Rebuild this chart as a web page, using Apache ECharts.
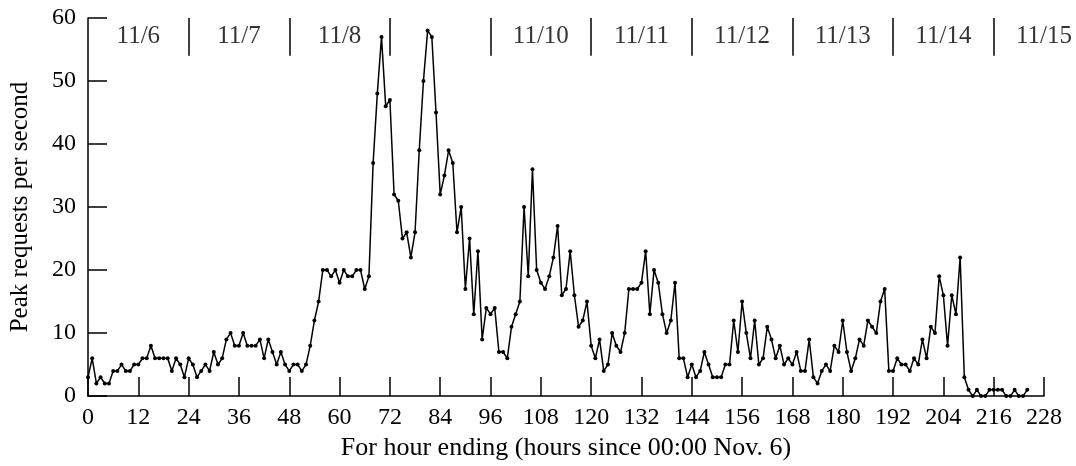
<!DOCTYPE html>
<html>
<head>
<meta charset="utf-8">
<title>Peak requests per second</title>
<script src="https://cdn.jsdelivr.net/npm/echarts@6/dist/echarts.min.js"></script>
<style>
  html, body { margin: 0; padding: 0; background: #fff; }
  #chart { width: 1076px; height: 466px; }
</style>
</head>
<body>
<div id="chart"></div>
<script>
// hourly peak, index = hours since 00:00 Nov. 6
const peakRequests = [
  3, 6, 2, 3, 2, 2, 4, 4, 5, 4, 4, 5, 5, 6, 6, 8, 6, 6, 6, 6, 4, 6, 5, 3,
  6, 5, 3, 4, 5, 4, 7, 5, 6, 9, 10, 8, 8, 10, 8, 8, 8, 9, 6, 9, 7, 5, 7, 5,
  4, 5, 5, 4, 5, 8, 12, 15, 20, 20, 19, 20, 18, 20, 19, 19, 20, 20, 17, 19, 37, 48, 57, 46,
  47, 32, 31, 25, 26, 22, 26, 39, 50, 58, 57, 45, 32, 35, 39, 37, 26, 30, 17, 25, 13, 23, 9, 14,
  13, 14, 7, 7, 6, 11, 13, 15, 30, 19, 36, 20, 18, 17, 19, 22, 27, 16, 17, 23, 16, 11, 12, 15,
  8, 6, 9, 4, 5, 10, 8, 7, 10, 17, 17, 17, 18, 23, 13, 20, 18, 13, 10, 12, 18, 6, 6, 3,
  5, 3, 4, 7, 5, 3, 3, 3, 5, 5, 12, 7, 15, 10, 6, 12, 5, 6, 11, 9, 6, 8, 5, 6,
  5, 7, 4, 4, 9, 3, 2, 4, 5, 4, 8, 7, 12, 7, 4, 6, 9, 8, 12, 11, 10, 15, 17, 4,
  4, 6, 5, 5, 4, 6, 5, 9, 6, 11, 10, 19, 16, 8, 16, 13, 22, 3, 1, 0, 1, 0, 0, 1,
  1, 1, 1, 0, 0, 1, 0, 0, 1
];

const xTicks = [0, 228, 12];   // min, max, step
const yTicks = [0, 60, 10];
const daySeparators = [24, 48, 72, 96, 120, 144, 168, 192, 216];
const dayLabels = ['11/6', '11/7', '11/8', '11/10', '11/11', '11/12', '11/13', '11/14', '11/15'];
const dayLabelHours = [12, 36, 60, 108, 132, 156, 180, 204, 228];

const font = '"Liberation Serif", "Times New Roman", serif';

const chart = echarts.init(document.getElementById('chart'));

chart.setOption({
  animation: false,
  backgroundColor: '#fff',
  grid: { left: 85, right: 32, top: 18, bottom: 65, containLabel: false },
  xAxis: {
    type: 'value',
    min: xTicks[0],
    max: xTicks[1],
    interval: xTicks[2],
    name: 'For hour ending (hours since 00:00 Nov. 6)',
    nameLocation: 'middle',
    nameGap: 35,
    nameTextStyle: { color: '#000', fontFamily: font, fontSize: 26 },
    axisLine: { lineStyle: { color: '#000', width: 1.5 } },
    axisTick: { inside: true, length: 19, lineStyle: { color: '#000', width: 1.5 } },
    axisLabel: { color: '#000', fontFamily: font, fontSize: 24, margin: 10 },
    splitLine: { show: false }
  },
  yAxis: {
    type: 'value',
    min: yTicks[0],
    max: yTicks[1],
    interval: yTicks[2],
    name: 'Peak requests per second',
    nameLocation: 'middle',
    nameGap: 55,
    nameTextStyle: { color: '#000', fontFamily: font, fontSize: 25 },
    axisLine: { show: true, lineStyle: { color: '#000', width: 1.5 } },
    axisTick: { show: true, inside: true, length: 19, lineStyle: { color: '#000', width: 1.5 } },
    axisLabel: { color: '#000', fontFamily: font, fontSize: 24, margin: 12 },
    splitLine: { show: false }
  },
  series: [
    {
      name: 'peak',
      type: 'line',
      data: peakRequests.map((v, i) => [i, v]),
      symbol: 'circle',
      symbolSize: 4,
      showAllSymbol: true,
      lineStyle: { color: '#000', width: 1.5 },
      itemStyle: { color: '#000' },
      silent: true
    },
    {
      name: 'days',
      type: 'scatter',
      symbolSize: 0,
      clip: false,
      silent: true,
      data: dayLabelHours.map((h, i) => ({ value: [h, 57], name: dayLabels[i] })),
      label: {
        show: true,
        position: 'inside',
        formatter: '{b}',
        color: '#000',
        fontFamily: font,
        fontSize: 25
      },
      markLine: {
        silent: true,
        symbol: 'none',
        label: { show: false },
        lineStyle: { color: '#000', width: 1.5, type: 'solid' },
        data: daySeparators.map(h => [{ coord: [h, 60] }, { coord: [h, 54] }])
      }
    }
  ]
});

window.addEventListener('resize', () => chart.resize());
</script>
</body>
</html>
